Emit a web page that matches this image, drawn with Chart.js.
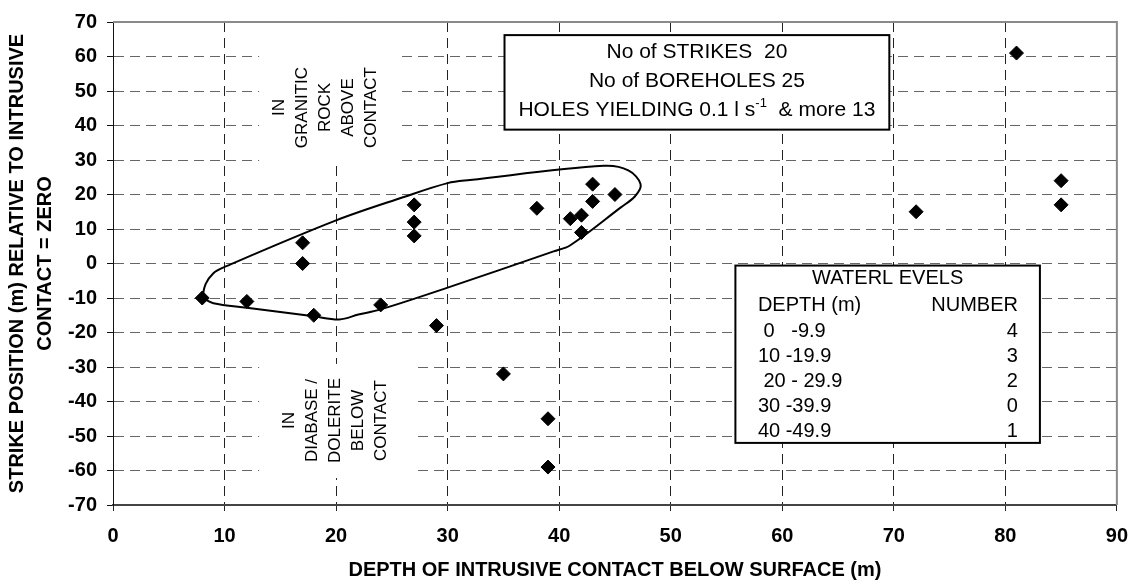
<!DOCTYPE html>
<html>
<head>
<meta charset="utf-8">
<title>Strike position vs depth of intrusive contact</title>
<script src="https://cdn.jsdelivr.net/npm/chart.js"></script>
<style>
    body { margin: 0; background: #fff; }
    .chart-container { width: 1141px; height: 585px; }
</style>
</head>
<body>
<div class="chart-container">
    <canvas id="strikeChart"></canvas>
</div>
<script>
    // water strikes: depth of contact (m) and strike position relative to contact (m)
    const depthX  = [8, 12, 17, 17, 18, 24, 27, 27, 27, 29, 35, 38, 39, 39, 41, 42, 42, 43, 43, 45, 72, 81, 85, 85];
    const strikeY = [-10, -11, 6, 0, -15, -12, 17, 12, 8, -18, -32, 16, -45, -59, 13, 14, 9, 23, 18, 20, 15, 61, 24, 17];

    // hand drawn envelope round the main group of strikes
    const envX = [8, 8.3, 9, 10, 20, 26, 30, 32, 44, 46.2, 47.3, 46.8, 45.5, 41, 39.5, 30, 24, 22, 20.3, 18, 12, 9, 8];
    const envY = [-10, -6, -2.8, -1, 12.5, 19.2, 23.3, 24.2, 28.3, 27, 23, 19.5, 16.2, 5.3, 3.5, -7, -13.3, -14.8, -16.2, -15.3, -12.8, -11.5, -10];

    const upperNote = ['IN', 'GRANITIC', 'ROCK', 'ABOVE', 'CONTACT'];
    const lowerNote = ['IN', 'DIABASE /', 'DOLERITE', 'BELOW', 'CONTACT'];

    const summaryLines = ['No of STRIKES  20', 'No of BOREHOLES 25'];
    const yieldParts = ['HOLES YIELDING 0.1 l s', '-1', '  & more 13'];

    const waterTitle = 'WATERL EVELS';
    const waterHeads = ['DEPTH (m)', 'NUMBER'];
    const depthRanges = [' 0   -9.9', '10 -19.9', ' 20 - 29.9', '30 -39.9', '40 -49.9'];
    const levelCounts = [4, 3, 2, 0, 1];

    const FONT = 'Arial, "Liberation Sans", sans-serif';

    // notes, text boxes and the grey frame
    const notesPlugin = {
        id: 'notes',
        beforeDatasetsDraw(chart) {
            const ctx = chart.ctx;
            const sx = chart.scales.x, sy = chart.scales.y;
            const px = v => sx.getPixelForValue(v);
            const py = v => sy.getPixelForValue(v);
            const box = (x0, x1, y0, y1) => [px(x0), py(y0), px(x1) - px(x0), py(y1) - py(y0)];

            ctx.save();
            ctx.fillStyle = '#fff';
            ctx.fillRect(...box(13.1, 25.4, 69.7, 28.5));
            ctx.fillRect(...box(13.1, 27.3, -29.1, -62.2));

            ctx.fillStyle = '#000';
            ctx.font = '17px ' + FONT;
            ctx.textAlign = 'center';
            ctx.textBaseline = 'middle';
            const rotated = (lines, cx, cy) => {
                ctx.save();
                ctx.translate(px(cx), py(cy));
                ctx.rotate(-Math.PI / 2);
                lines.forEach((t, i) => ctx.fillText(t, 0, (i - (lines.length - 1) / 2) * 23));
                ctx.restore();
            };
            rotated(upperNote, 19.0, 45.2);
            rotated(lowerNote, 19.9, -45.5);

            // summary box
            let b = box(35.1, 69.6, 66.2, 38.8);
            ctx.fillStyle = '#fff';
            ctx.fillRect(...b);
            ctx.lineWidth = 2;
            ctx.strokeStyle = '#000';
            ctx.strokeRect(...b);
            ctx.fillStyle = '#000';
            ctx.font = '21px ' + FONT;
            const cx = b[0] + b[2] / 2;
            ctx.fillText(summaryLines[0], cx, b[1] + 17.5);
            ctx.fillText(summaryLines[1], cx, b[1] + 46);
            const supFont = '13px ' + FONT;
            const w0 = ctx.measureText(yieldParts[0]).width;
            const w2 = ctx.measureText(yieldParts[2]).width;
            ctx.font = supFont;
            const w1 = ctx.measureText(yieldParts[1]).width;
            let tx = cx - (w0 + w1 + w2) / 2;
            const ty = b[1] + 75.5;
            ctx.textAlign = 'left';
            ctx.font = '21px ' + FONT;
            ctx.fillText(yieldParts[0], tx, ty);
            ctx.font = supFont;
            ctx.fillText(yieldParts[1], tx + w0, ty - 7);
            ctx.font = '21px ' + FONT;
            ctx.fillText(yieldParts[2], tx + w0 + w1, ty);

            // water level box
            b = box(55.8, 83.1, -0.6, -52);
            ctx.fillStyle = '#fff';
            ctx.fillRect(...b);
            ctx.strokeRect(...b);
            ctx.fillStyle = '#000';
            ctx.font = '20px ' + FONT;
            ctx.textAlign = 'center';
            ctx.fillText(waterTitle, b[0] + b[2] / 2, b[1] + 13);
            const left = b[0] + 22.5, right = b[0] + b[2] - 22;
            ctx.textAlign = 'left';
            ctx.fillText(waterHeads[0], left, b[1] + 39.5);
            depthRanges.forEach((t, i) => ctx.fillText(t, left, b[1] + 65.5 + i * 25.2));
            ctx.textAlign = 'right';
            ctx.fillText(waterHeads[1], right, b[1] + 39.5);
            levelCounts.forEach((n, i) => ctx.fillText(String(n), right, b[1] + 65.5 + i * 25.2));
            ctx.restore();
        },
        afterDraw(chart) {
            const {ctx, chartArea: a} = chart;
            ctx.save();
            ctx.strokeStyle = '#8a8a8a';
            ctx.lineWidth = 2;
            ctx.beginPath();
            ctx.moveTo(a.left, a.top);
            ctx.lineTo(a.right, a.top);
            ctx.lineTo(a.right, a.bottom);
            ctx.stroke();
            ctx.restore();
        }
    };

    const points = depthX.map((v, i) => ({x: v, y: strikeY[i]}));
    const envelope = envX.map((v, i) => ({x: v, y: envY[i]}));

    const ctx = document.getElementById('strikeChart').getContext('2d');
    const chart = new Chart(ctx, {
        type: 'scatter',
        data: {
            datasets: [
                {
                    label: 'Strikes',
                    data: points,
                    pointStyle: 'rectRot',
                    pointRadius: 7,
                    pointHoverRadius: 7,
                    backgroundColor: '#000',
                    borderColor: '#000',
                    borderWidth: 1
                },
                {
                    label: 'Envelope',
                    data: envelope,
                    showLine: true,
                    pointRadius: 0,
                    borderColor: '#000',
                    borderWidth: 2,
                    tension: 0.35,
                    fill: false
                }
            ]
        },
        options: {
            responsive: true,
            maintainAspectRatio: false,
            animation: false,
            events: [],
            layout: { padding: { top: 18, right: 19, left: 0, bottom: 0 } },
            plugins: {
                legend: { display: false },
                tooltip: { enabled: false }
            },
            scales: {
                x: {
                    type: 'linear',
                    min: 0,
                    max: 90,
                    afterFit: s => { s.height = 80; },
                    ticks: {
                        stepSize: 10,
                        padding: 13,
                        color: '#000',
                        font: { family: FONT, size: 20, weight: 'bold' }
                    },
                    grid: {
                        color: '#222',
                        lineWidth: 1,
                        tickLength: 6,
                        tickColor: '#222',
                        tickBorderDash: []
                    },
                    border: { display: true, color: '#444', width: 2, dash: [10, 6] },
                    title: {
                        display: true,
                        text: 'DEPTH OF INTRUSIVE CONTACT BELOW SURFACE (m)',
                        color: '#000',
                        font: { family: FONT, size: 20, weight: 'bold', lineHeight: 1.2 },
                        padding: { top: 0, bottom: 3 }
                    }
                },
                y: {
                    type: 'linear',
                    min: -70,
                    max: 70,
                    afterFit: s => { s.width = 113; },
                    ticks: {
                        stepSize: 10,
                        padding: 10,
                        color: '#000',
                        font: { family: FONT, size: 20, weight: 'bold' }
                    },
                    grid: {
                        color: '#666',
                        lineWidth: 1,
                        tickLength: 6,
                        tickColor: '#111',
                        tickBorderDash: []
                    },
                    border: { display: true, color: '#111', width: 1, dash: [10, 6] },
                    title: {
                        display: true,
                        text: ['STRIKE POSITION (m) RELATIVE TO INTRUSIVE', 'CONTACT = ZERO'],
                        color: '#000',
                        font: { family: FONT, size: 20, weight: 'bold', lineHeight: 1.4 },
                        padding: { top: 3.5, bottom: 0 }
                    }
                }
            }
        },
        plugins: [notesPlugin]
    });
</script>
</body>
</html>
